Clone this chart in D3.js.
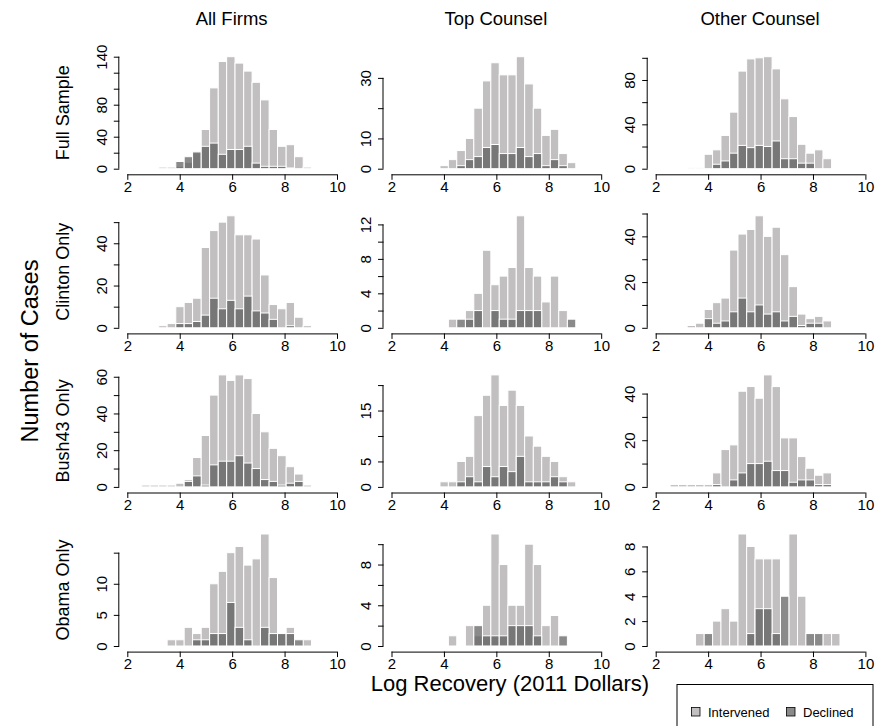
<!DOCTYPE html>
<html>
<head>
<meta charset="utf-8">
<script src="https://cdn.jsdelivr.net/npm/d3@7"></script>
<style>
  body { margin: 0; background: #fff; }
  text { font-family: "Liberation Sans", Arial, Helvetica, sans-serif; fill: #000; }
</style>
</head>
<body>
<div id="chart"></div>
<script>
// histogram breaks (log recovery), shared by all panels
const breaks = [2.55, 2.87, 3.20, 3.52, 3.85, 4.17, 4.49, 4.82, 5.14, 5.47, 5.79,
                6.11, 6.44, 6.76, 7.08, 7.41, 7.73, 8.06, 8.38, 8.71, 9.03];

const colTitles = ['All Firms', 'Top Counsel', 'Other Counsel'];
const rowTitles = ['Full Sample', 'Clinton Only', 'Bush43 Only', 'Obama Only'];
const xTicks = [2, 4, 6, 8, 10];

// counts per bin, one array per panel (row_col)
const fullAllInt   = [0, 0, 2, 2, 3, 8, 20, 49, 101, 134, 140, 132, 122, 108, 86, 49, 28, 30, 15, 2];
const fullAllDec   = [0, 0, 0, 0, 9, 15, 21, 28, 32, 18, 24, 24, 28, 7, 3, 3, 3, 1, 0, 0];
const fullTopInt   = [0, 0, 0, 0, 1, 3, 6, 10, 20, 29, 35, 31, 31, 37, 28, 20, 11, 13, 5, 2];
const fullTopDec   = [0, 0, 0, 0, 0, 0, 1, 3, 4, 7, 8, 5, 5, 7, 4, 5, 1, 3, 1, 0];
const fullOthInt   = [0, 0, 1, 1, 13, 17, 30, 51, 88, 99, 100, 101, 90, 63, 47, 22, 14, 17, 9, 0];
const fullOthDec   = [0, 0, 0, 0, 0, 4, 7, 14, 21, 19, 21, 20, 25, 9, 9, 5, 5, 0, 0, 0];

const clintonAllInt = [0, 0, 1, 2, 10, 12, 14, 38, 46, 50, 53, 44, 44, 42, 25, 11, 9, 12, 5, 1];
const clintonAllDec = [0, 0, 0, 0, 2, 2, 3, 6, 14, 9, 13, 9, 15, 8, 7, 4, 0, 1, 0, 0];
const clintonTopInt = [0, 0, 0, 0, 0, 1, 0, 2, 4, 9, 5, 6, 7, 13, 7, 6, 3, 6, 2, 0];
const clintonTopDec = [0, 0, 0, 0, 0, 0, 1, 1, 2, 0, 2, 1, 1, 2, 2, 2, 0, 0, 0, 1];
const clintonOthInt = [0, 0, 1, 2, 8, 11, 13, 34, 41, 43, 49, 40, 44, 32, 18, 6, 4, 5, 3, 0];
const clintonOthDec = [0, 0, 0, 0, 4, 2, 3, 7, 13, 7, 10, 6, 7, 3, 5, 1, 2, 2, 0, 0];

const bushAllInt = [1, 1, 1, 1, 2, 4, 16, 28, 50, 61, 58, 61, 59, 40, 30, 21, 17, 11, 7, 1];
const bushAllDec = [0, 0, 0, 0, 0, 3, 6, 1, 12, 14, 14, 17, 13, 10, 4, 3, 1, 2, 3, 0];
const bushTopInt = [0, 0, 0, 0, 1, 1, 5, 6, 14, 18, 22, 16, 19, 16, 10, 8, 6, 5, 2, 1];
const bushTopDec = [0, 0, 0, 0, 0, 0, 1, 2, 1, 4, 2, 4, 3, 6, 1, 1, 1, 2, 1, 0];
const bushOthInt = [1, 1, 1, 1, 1, 6, 16, 18, 41, 43, 38, 48, 43, 21, 21, 13, 8, 5, 6, 0];
const bushOthDec = [0, 0, 0, 0, 0, 1, 0, 3, 6, 10, 10, 11, 7, 7, 2, 3, 3, 1, 1, 0];

const obamaAllInt = [0, 0, 0, 1, 1, 3, 2, 3, 10, 12, 15, 16, 13, 14, 18, 11, 2, 3, 0, 1];
const obamaAllDec = [0, 0, 0, 0, 0, 0, 1, 1, 2, 2, 7, 3, 1, 0, 3, 2, 2, 2, 1, 0];
const obamaTopInt = [0, 0, 0, 0, 0, 1, 0, 2, 1, 4, 11, 8, 4, 4, 10, 8, 2, 3, 0, 0];
const obamaTopDec = [0, 0, 0, 0, 0, 0, 0, 0, 2, 1, 1, 1, 2, 2, 2, 1, 0, 0, 1, 0];
const obamaOthInt = [0, 0, 0, 1, 0, 2, 3, 2, 9, 8, 7, 7, 7, 0, 9, 4, 0, 0, 1, 1];
const obamaOthDec = [0, 0, 0, 0, 1, 0, 0, 0, 0, 1, 3, 3, 1, 4, 0, 0, 1, 1, 0, 0];

// y axis ticks and the labels R kept after dropping overlaps
const yTicks = [
  [[0, 20, 40, 60, 80, 100, 120, 140], [0, 10, 20, 30], [0, 20, 40, 60, 80, 100]],
  [[0, 10, 20, 30, 40, 50], [0, 2, 4, 6, 8, 10, 12], [0, 10, 20, 30, 40, 50]],
  [[0, 10, 20, 30, 40, 50, 60], [0, 5, 10, 15, 20], [0, 10, 20, 30, 40]],
  [[0, 5, 10, 15], [0, 2, 4, 6, 8, 10], [0, 2, 4, 6, 8]]
];
const yLabels = [
  [[0, 40, 80, 140], [0, 10, 30], [0, 40, 80]],
  [[0, 20, 40], [0, 4, 8, 12], [0, 20, 40]],
  [[0, 20, 40, 60], [0, 5, 15], [0, 20, 40]],
  [[0, 5, 10], [0, 4, 8], [0, 2, 4, 6, 8]]
];

const panels = [
  [[fullAllInt, fullAllDec], [fullTopInt, fullTopDec], [fullOthInt, fullOthDec]],
  [[clintonAllInt, clintonAllDec], [clintonTopInt, clintonTopDec], [clintonOthInt, clintonOthDec]],
  [[bushAllInt, bushAllDec], [bushTopInt, bushTopDec], [bushOthInt, bushOthDec]],
  [[obamaAllInt, obamaAllDec], [obamaTopInt, obamaTopDec], [obamaOthInt, obamaOthDec]]
];

const width = 878;
const height = 726;
const colStep = 264.2;
const rowStep = 159.1;
const x0 = 127.3;      // pixel of x = 2 in first column
const plotW = 209.7;   // 2..10
const zero0 = 168.7;   // pixel of y = 0 in first row
const barH = 112;      // pixels from 0 to panel max
const tickFont = 15;

const lightFill = '#c1bfbf';
const darkFill = 'rgba(89, 89, 89, 0.7)';

const svg = d3.select('#chart')
              .append('svg')
              .attr('width', width)
              .attr('height', height);

panels.forEach((row, r) => {
  row.forEach((pair, c) => {
    const left = x0 + c * colStep;
    const zero = zero0 + r * rowStep;
    const ymax = d3.max(pair[0].concat(pair[1]));

    const xScale = d3.scaleLinear().domain([2, 10]).range([left, left + plotW]);
    const yScale = d3.scaleLinear().domain([0, ymax]).range([zero, zero - barH]);

    const g = svg.append('g');

    // intervened first, declined drawn over it
    pair.forEach((counts, s) => {
      const bins = counts.map((v, i) => ({ v: v, a: breaks[i], b: breaks[i + 1] }))
                         .filter((d) => d.v > 0);
      g.selectAll('rect.s' + s)
       .data(bins)
       .enter()
       .append('rect')
       .attr('class', 's' + s)
       .attr('x', (d) => xScale(d.a))
       .attr('y', (d) => yScale(d.v))
       .attr('width', (d) => xScale(d.b) - xScale(d.a))
       .attr('height', (d) => yScale(0) - yScale(d.v))
       .attr('fill', s === 0 ? lightFill : darkFill)
       .attr('stroke', '#fff')
       .attr('stroke-width', 1);
    });

    const xAxis = d3.axisBottom(xScale).tickValues(xTicks).tickSize(5.5).tickPadding(1.5);
    const xg = g.append('g')
                .attr('transform', 'translate(0,' + (zero + 5.6) + ')')
                .call(xAxis);
    xg.select('.domain').attr('d', 'M' + xScale(2) + ',0.5H' + xScale(10));
    xg.selectAll('text').attr('font-size', tickFont).attr('fill', '#000')
      .style('font-family', '"Liberation Sans", Arial, sans-serif');

    const labels = yLabels[r][c];
    const yAxis = d3.axisLeft(yScale)
                    .tickValues(yTicks[r][c])
                    .tickSize(5.5)
                    .tickFormat((d) => labels.indexOf(d) >= 0 ? d : '');
    const yTop = d3.max(yTicks[r][c]);
    const yg = g.append('g')
                .attr('transform', 'translate(' + (left - 8) + ',0)')
                .call(yAxis);
    yg.select('.domain').attr('d', 'M-0.5,' + yScale(0) + 'V' + yScale(yTop));
    yg.selectAll('text')
      .attr('font-size', tickFont)
      .attr('fill', '#000')
      .style('font-family', '"Liberation Sans", Arial, sans-serif')
      .attr('text-anchor', 'middle')
      .attr('dy', null)
      .attr('x', null)
      .attr('transform', 'translate(-12.5,0) rotate(-90)');
  });
});

// column titles
svg.selectAll('text.coltitle')
   .data(colTitles)
   .enter()
   .append('text')
   .attr('class', 'coltitle')
   .attr('x', (d, i) => x0 + plotW / 2 + i * colStep - 0.5)
   .attr('y', 25)
   .attr('text-anchor', 'middle')
   .attr('font-size', 18.5)
   .text((d) => d);

// row titles
svg.selectAll('text.rowtitle')
   .data(rowTitles)
   .enter()
   .append('text')
   .attr('class', 'rowtitle')
   .attr('transform', (d, i) => 'translate(' + 69 + ',' + (zero0 - 56 + i * rowStep) + ') rotate(-90)')
   .attr('text-anchor', 'middle')
   .attr('font-size', 18)
   .text((d) => d);

svg.append('text')
   .attr('transform', 'translate(38,' + 351 + ') rotate(-90)')
   .attr('text-anchor', 'middle')
   .attr('font-size', 23.5)
   .text('Number of Cases');

svg.append('text')
   .attr('x', 510)
   .attr('y', 691)
   .attr('text-anchor', 'middle')
   .attr('font-size', 22)
   .text('Log Recovery (2011 Dollars)');

// legend
const legend = svg.append('g');
legend.append('rect')
      .attr('x', 677)
      .attr('y', 684.5)
      .attr('width', 196)
      .attr('height', 45)
      .attr('fill', '#fff')
      .attr('stroke', '#000')
      .attr('stroke-width', 1);
const legendItems = [['Intervened', lightFill, 691.5, 708], ['Declined', darkFill, 786.5, 803]];
legendItems.forEach((it) => {
  legend.append('rect')
        .attr('x', it[2]).attr('y', 707.5)
        .attr('width', 8.5).attr('height', 8.5)
        .attr('fill', it[1])
        .attr('stroke', '#000').attr('stroke-width', 0.8);
  legend.append('text')
        .attr('x', it[3]).attr('y', 716.5)
        .attr('font-size', 13)
        .text(it[0]);
});
</script>
</body>
</html>
